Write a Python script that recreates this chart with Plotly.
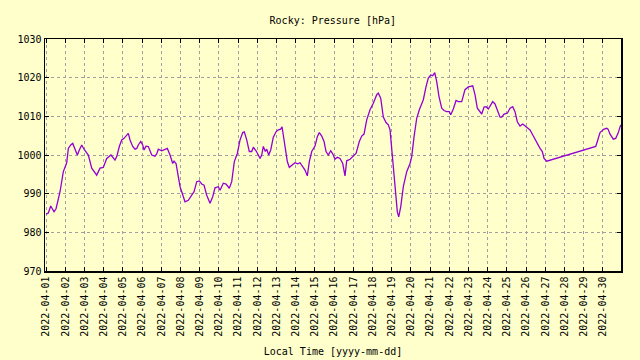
import plotly.graph_objects as go
import pandas as pd

START = "2022-04-01 00:00"
HOURS = [0, 2.75, 5.75, 9.9, 12.4, 14, 17.4, 21.5, 25.75, 27.75,
         30.75, 33.25, 36.1, 39, 41.5, 44.5, 47.4, 49.9, 52.75, 57,
         63.25, 67.4, 71.5, 75.75, 79, 81.1, 86.1, 88.25, 91.5, 94.5,
         97.4, 102.75, 104.9, 108.25, 111.1, 113.25, 115.25, 118.25, 120.75, 122.4,
         124.9, 127.75, 132, 136.1, 138.25, 140.25, 144.5, 148.6, 151.5, 154.9,
         158.25, 159.9, 162.4, 165.25, 167.4, 169.5, 173.6, 177.75, 182, 184.9,
         188.25, 191.5, 194.5, 197.4, 200.75, 204.9, 208.25, 211.1, 215.25, 217.4,
         221.5, 224.9, 229, 232, 235.25, 239, 242.4, 245.75, 247.75, 250.75,
         254, 257, 259, 262.4, 265.25, 267.4, 269.5, 271.5, 274, 275.75,
         278.25, 280.75, 284, 287.4, 290.25, 293.25, 294.9, 297.4, 299.9, 301.5,
         304, 307, 311.1, 314.5, 317.4, 320.25, 323.6, 326.5, 329, 332,
         336.1, 339, 341.5, 344.5, 347.4, 349.9, 352.75, 355.75, 358.25, 361.1,
         364, 367.4, 370.75, 373.6, 375.75, 379.9, 384, 387.4, 391.5, 394.5,
         397.4, 400.75, 404.9, 409, 413.25, 415.25, 418.25, 421.5, 424.9, 427.75,
         429.9, 433.25, 436.1, 439, 440.75, 443.25, 446.5, 450.75, 454.9, 457,
         459.9, 463.25, 466.5, 469.5, 471.5, 474.9, 477.75, 480.75, 483.25, 485.75,
         488.25, 491.1, 494.5, 497.4, 500.75, 504, 505.75, 509, 512.4, 515.25,
         519.5, 523.6, 527.75, 533.25, 536.1, 539, 542.4, 544.5, 547.4, 549.9,
         552.75, 555.75, 558.25, 561.1, 564, 567.4, 569.5, 572.4, 576.5, 579.9,
         583.25, 586.1, 589, 592.4, 595.75, 599.9, 604.9, 609, 613.25, 617.4,
         620.25, 622.4, 625.75, 687, 689, 692.4, 697.4, 700.75, 702.4, 704.9,
         709, 712, 714.9, 718.25]
PRESSURE = [984.7, 985.0, 986.8, 985.3, 986.1, 987.3, 990.5, 995.7, 998.0, 1001.7,
            1002.6, 1003.0, 1001.7, 1000.0, 1001.3, 1002.6, 1001.5, 1000.9, 1000.0, 996.6,
            994.8, 996.6, 996.8, 999.1, 999.7, 1000.0, 998.7, 999.6, 1002.2, 1003.9,
            1004.3, 1005.6, 1003.9, 1002.2, 1001.5, 1001.7, 1002.6, 1003.5, 1002.6, 1001.3,
            1002.3, 1002.2, 1000.0, 999.7, 1000.3, 1001.5, 1001.1, 1001.5, 1001.7, 1000.0,
            997.8, 998.4, 997.8, 994.4, 991.8, 990.5, 987.9, 988.3, 989.6, 990.5,
            993.1, 993.3, 992.5, 992.2, 989.6, 987.5, 989.2, 991.5, 991.8, 990.9,
            992.7, 992.5, 991.4, 993.1, 998.3, 1000.4, 1003.9, 1005.8, 1006.0, 1003.9,
            1000.9, 1000.9, 1002.0, 1001.1, 1000.0, 999.1, 1000.0, 1002.2, 1000.9, 1001.5,
            1000.0, 1001.3, 1004.6, 1006.0, 1006.5, 1006.7, 1007.3, 1004.3, 1000.4, 998.3,
            996.8, 997.4, 998.0, 997.7, 998.0, 997.1, 996.1, 994.6, 998.3, 1000.9,
            1002.3, 1004.7, 1005.8, 1004.9, 1003.5, 1000.9, 1000.0, 1001.1, 1000.3, 998.9,
            999.4, 999.1, 997.8, 994.6, 998.5, 998.9, 999.6, 1000.4, 1003.5, 1004.9,
            1005.4, 1009.1, 1011.7, 1013.4, 1015.6, 1016.0, 1014.7, 1009.8, 1008.4, 1007.8,
            1006.5, 997.8, 990.9, 985.3, 984.0, 986.6, 991.8, 995.7, 997.8, 999.6,
            1004.7, 1009.5, 1011.7, 1013.0, 1014.3, 1017.7, 1019.9, 1020.7, 1020.5, 1021.3,
            1019.0, 1015.1, 1012.1, 1011.5, 1011.2, 1011.2, 1010.4, 1011.9, 1014.1, 1013.8,
            1013.8, 1016.9, 1017.6, 1017.9, 1015.6, 1012.1, 1011.2, 1010.6, 1012.4, 1012.5,
            1011.9, 1013.0, 1013.8, 1013.2, 1011.7, 1009.8, 1009.8, 1010.6, 1010.8, 1012.1,
            1012.5, 1011.2, 1008.6, 1007.5, 1008.0, 1007.3, 1006.5, 1004.9, 1003.2, 1001.7,
            1000.9, 999.1, 998.4, 1002.2, 1003.5, 1005.8, 1006.7, 1006.9, 1006.7, 1005.4,
            1004.1, 1004.3, 1005.6, 1007.8]
Y_TICKS = [970, 980, 990, 1000, 1010, 1020, 1030]
X_RANGE = ["2022-03-31 22:36", "2022-04-30 22:36"]

times = pd.Timestamp(START) + pd.to_timedelta(HOURS, unit="h")

BG = "#ffffcc"
FONT = "DejaVu Sans Mono"

fig = go.Figure()
fig.add_trace(go.Scatter(x=times, y=PRESSURE, mode="lines",
                         line=dict(color="#9400d3", width=1.3),
                         showlegend=False, hoverinfo="skip"))

fig.update_layout(
    width=640, height=360,
    paper_bgcolor=BG, plot_bgcolor=BG,
    margin=dict(l=45, r=19, t=39, b=89, autoexpand=False),
    font=dict(family=FONT, size=10, color="black"),
    title=dict(text="Rocky: Pressure [hPa]", x=0.52, xanchor="center",
               xref="container", yref="container",
               y=1 - 20 / 360, yanchor="middle", font=dict(family=FONT, size=10)),
)
fig.update_xaxes(
    range=X_RANGE, type="date", dtick=86400000, tick0="2022-04-01",
    tickformat="%Y-%m-%d", tickangle=-90, automargin=False,
    showgrid=True, gridcolor="#a0a0a0", griddash="3px,3px", gridwidth=1,
    showline=True, linecolor="black", linewidth=1.5, mirror="ticks",
    ticks="inside", ticklen=4, tickcolor="black",
    zeroline=False,
    title=dict(text="Local Time [yyyy-mm-dd]", standoff=12, font=dict(family=FONT, size=10)),
)
fig.update_yaxes(
    range=[970, 1030], tickvals=Y_TICKS, automargin=False,
    showgrid=True, gridcolor="#a0a0a0", griddash="3px,3px", gridwidth=1,
    showline=True, linecolor="black", linewidth=1.5, mirror="ticks",
    ticks="inside", ticklen=4, tickcolor="black",
    zeroline=False,
)

fig.write_html("out.html", config={"displayModeBar": False, "staticPlot": True},
               post_script="document.body.style.margin='0';document.body.style.background='#ffffcc';")
